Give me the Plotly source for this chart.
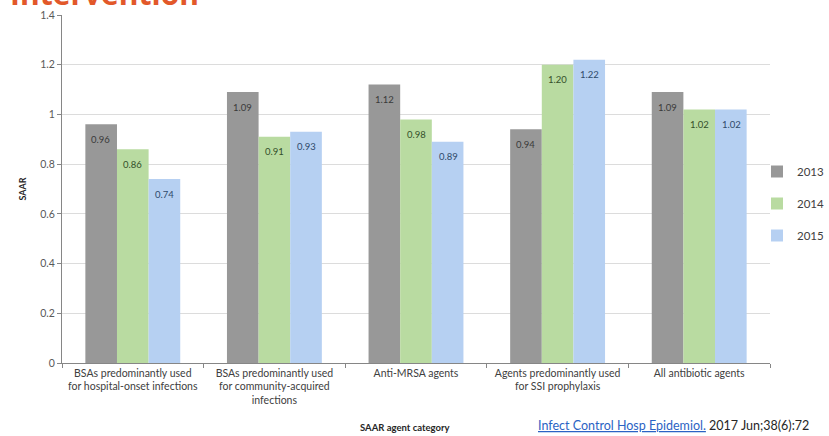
import plotly.graph_objects as go

categories = [
    "BSAs predominantly used<br>for hospital-onset infections",
    "BSAs predominantly used<br>for community-acquired<br>infections",
    "Anti-MRSA agents",
    "Agents predominantly used<br>for SSI prophylaxis",
    "All antibiotic agents",
]
years = ["2013", "2014", "2015"]
saar_2013 = [0.96, 1.09, 1.12, 0.94, 1.09]
saar_2014 = [0.86, 0.91, 0.98, 1.20, 1.02]
saar_2015 = [0.74, 0.93, 0.89, 1.22, 1.02]

series = [saar_2013, saar_2014, saar_2015]
bar_colors = ["#989898", "#b9dba1", "#b6d0f2"]
label_colors = ["#3a3a3a", "#34502a", "#2f4a6a"]

FONT = "Lato, 'Open Sans', Arial, sans-serif"

fig = go.Figure()
for i, (yr, vals) in enumerate(zip(years, series)):
    fig.add_trace(go.Bar(
        name=yr,
        x=categories,
        y=vals,
        offsetgroup=yr,
        marker=dict(color=bar_colors[i], line=dict(width=0)),
        legendgroup=yr,
    ))

fig.update_layout(
    width=829, height=436,
    margin=dict(l=62, r=59, t=15, b=73, autoexpand=False),
    paper_bgcolor="white", plot_bgcolor="white",
    barmode="group", bargap=0.33, bargroupgap=0,
    font=dict(family=FONT, size=10, color="#404040"),
    showlegend=True,
    legend=dict(
        xref="container", yref="container",
        x=757/829, y=1 - 157/436, xanchor="left", yanchor="top",
        font=dict(size=11.5, color="#404040"),
        tracegroupgap=13, itemwidth=30,
        bgcolor="rgba(0,0,0,0)",
    ),
    xaxis=dict(
        automargin=False,
        showgrid=False, showline=True, linecolor="#868686", linewidth=1,
        ticks="outside", tickson="boundaries", ticklen=4, tickcolor="#868686",
        tickfont=dict(size=10.5, color="#404040"),
    ),
    yaxis=dict(
        automargin=False,
        range=[0, 1.4], dtick=0.2, tickformat="~g",
        showgrid=True, gridcolor="#dcdcdc", gridwidth=1,
        showline=True, linecolor="#868686", linewidth=1,
        ticks="outside", ticklen=4, tickcolor="#868686",
        tickfont=dict(size=10.5, color="#595959"),
        zeroline=False,
        title=dict(text="<b>SAAR</b>", font=dict(size=9, color="#262626"), standoff=12),
    ),
)

# Value labels just under the top of each bar
n = len(years)
for i, vals in enumerate(series):
    for j, v in enumerate(vals):
        fig.add_annotation(
            x=categories[j], y=v, text=f"{v:.2f}",
            xref="x", yref="y", showarrow=False,
            xshift=(i - (n - 1) / 2) * 32, yshift=-15,
            font=dict(size=9.5, color=label_colors[i], family=FONT),
        )

# X axis title
fig.add_annotation(
    text="<b>SAAR agent category</b>", xref="paper", yref="paper",
    x=(405-62)/708, y=-(428-363)/348, xanchor="center", yanchor="middle",
    showarrow=False, font=dict(size=9.5, color="#262626"),
)

# Slide heading running off the top edge
fig.add_annotation(
    text="<b>Intervention</b>", xref="paper", yref="paper",
    x=-62/708, y=1 - 1/348, xanchor="left", yanchor="bottom",
    xshift=8, showarrow=False,
    font=dict(size=30, color="#e2582a", family="'Open Sans', Arial, sans-serif"),
)

# Source citation
fig.add_annotation(
    text="<span style='color:#2b63c4'><u>Infect Control Hosp Epidemiol.</u></span> 2017 Jun;38(6):72",
    xref="paper", yref="paper", x=(536-62)/708, y=-(425-363)/348,
    xanchor="left", yanchor="middle", showarrow=False,
    font=dict(size=12.5, color="#262626"),
)

fig.write_html("out.html")
